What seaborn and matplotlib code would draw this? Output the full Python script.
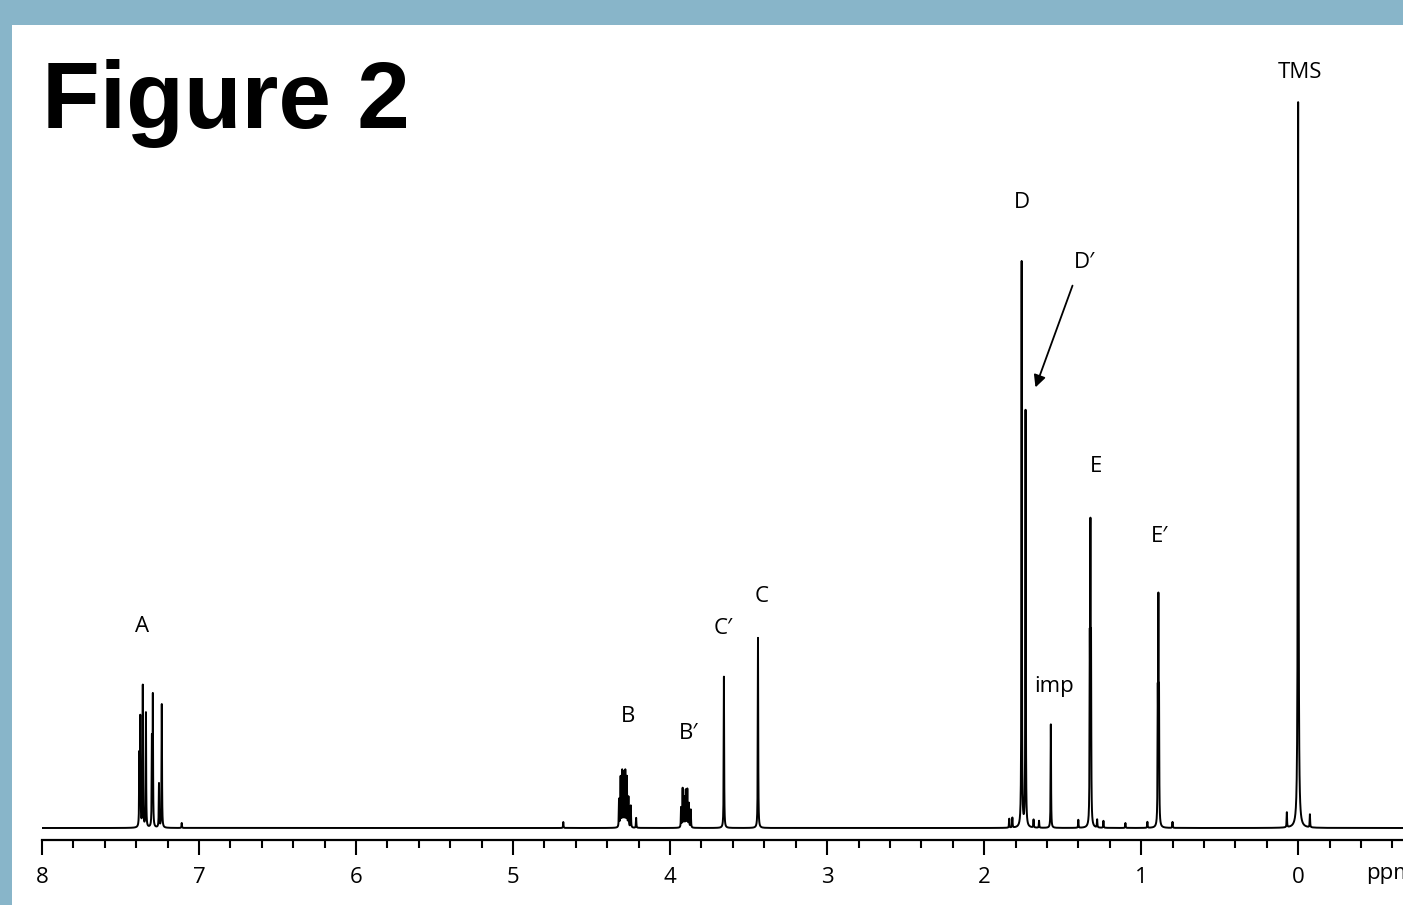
import numpy as np
import pandas as pd
import matplotlib
import matplotlib.pyplot as plt
import seaborn as sns
from matplotlib.patches import Rectangle

sns.set_style('white')
matplotlib.rcParams['font.family'] = ['Open Sans', 'DejaVu Sans']
matplotlib.rcParams['text.color'] = 'black'
matplotlib.rcParams['xtick.color'] = 'black'
matplotlib.rcParams['axes.edgecolor'] = 'black'

# peak list: shift (ppm), height (px above baseline)
peak_ppm = [7.380, 7.374, 7.358, 7.338, 7.300, 7.294, 7.255, 7.237, 7.11,
            4.68,
            4.325, 4.315, 4.305, 4.295, 4.285, 4.275, 4.265, 4.25, 4.216,
            3.93, 3.92, 3.91, 3.90, 3.89, 3.88, 3.868,
            3.657, 3.440,
            1.84, 1.82, 1.761, 1.736, 1.685, 1.65, 1.575,
            1.40, 1.327, 1.323, 1.319, 1.28, 1.24, 1.10,
            0.96, 0.894, 0.890, 0.886, 0.80,
            0.072, 0.000, -0.075]
peak_height = [70, 108, 142, 115, 86, 130, 44, 124, 5,
               6,
               28, 50, 56, 54, 56, 50, 30, 22, 10,
               20, 39, 30, 37, 38, 24, 18,
               152, 191,
               9, 10, 568, 418, 8, 7, 104,
               8, 160, 272, 160, 8, 7, 5,
               6, 115, 208, 115, 6,
               15, 727, 13]
peak_gamma = [0.0015] * (len(peak_ppm) - 3) + [0.0015, 0.0025, 0.0015]

labels = ['A', 'B', 'B\u2032', 'C\u2032', 'C', 'D', 'D\u2032', 'imp', 'E', 'E\u2032', 'TMS']
label_ppm = [7.364, 4.267, 3.879, 3.663, 3.415, 1.761, 1.361, 1.552, 1.285, 0.884, -0.013]
label_y = [201, 112, 95, 199, 231, 625, 565, 142, 362, 291, 756]

major_ticks = list(range(0, 9))
minor_ticks = np.round(np.arange(-0.6, 8.01, 0.2), 1)

# build the spectrum trace from the peak list (Lorentzian lines)
ppm = np.arange(-0.6677, 8.0002, 0.0002)
intensity = np.zeros_like(ppm)
for p, h, g in zip(peak_ppm, peak_height, peak_gamma):
    intensity += h * g**2 / (g**2 + (ppm - p)**2)
spec = pd.DataFrame({'ppm': ppm, 'intensity': intensity})

fig = plt.figure(figsize=(14.03, 9.05), dpi=100)
fig.patch.set_facecolor('#88b5c9')
fig.patches.append(Rectangle((12 / 1403, 0), 1, 1 - 25 / 905, transform=fig.transFigure,
                             facecolor='white', edgecolor='none', zorder=-5))

fig.text(42 / 1403, 1 - 128 / 905, 'Figure 2', fontsize=68, fontweight='bold',
         family='Liberation Sans', va='baseline', ha='left', color='black')

ax = fig.add_axes([42 / 1403, 65 / 905, 1361 / 1403, 780 / 905], zorder=2)
ax.patch.set_alpha(0)
sns.lineplot(data=spec, x='ppm', y='intensity', ax=ax, color='black', lw=1.4,
             estimator=None, sort=False)
ax.set_xlim(8, -0.6677)
ax.set_ylim(-12, 768)

for s in ['top', 'left', 'right']:
    ax.spines[s].set_visible(False)
ax.spines['bottom'].set_linewidth(1.6)
ax.set_yticks([])
ax.set_ylabel('')
ax.set_xlabel('')
ax.set_xticks(major_ticks)
ax.set_xticklabels([str(t) for t in major_ticks])
ax.set_xticks(minor_ticks, minor=True)
ax.tick_params(axis='x', which='major', direction='out', length=10.5, width=1.5,
               labelsize=16, pad=9, bottom=True)
ax.tick_params(axis='x', which='minor', direction='out', length=5.5, width=1.5, bottom=True)
# the reference cuts this label at the right edge
ax.text(-0.43, -35, 'ppm', fontsize=16, ha='left', va='top', clip_on=False)

for lab, x, y in zip(labels, label_ppm, label_y):
    ax.text(x, y, lab, fontsize=16, ha='center', va='center', clip_on=False)

ax.annotate('', xy=(1.679, 438), xytext=(1.431, 545),
            arrowprops=dict(arrowstyle='-|>', color='black', lw=1.3, mutation_scale=18))

fig.savefig('out.png', dpi=100, facecolor=fig.get_facecolor())
